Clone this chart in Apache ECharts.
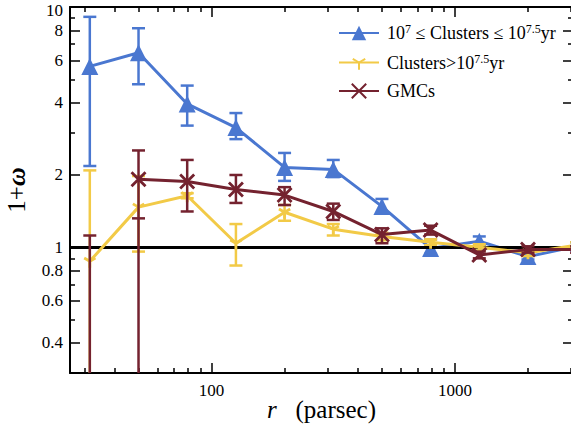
<!DOCTYPE html>
<html><head><meta charset="utf-8">
<script src="https://cdn.jsdelivr.net/npm/echarts@6/dist/echarts.min.js"></script>
<style>html,body{margin:0;padding:0;background:#fff}#c{width:571px;height:436px}</style>
</head><body><div id="c"></div>
<script>
// ---- data ----
const radii = [31.6, 50.1, 79.4, 125.9, 199.5, 316.2, 501.2, 794.3, 1258.9, 1995.3, 3162.3];

const youngVal  = [5.66, 6.45, 3.95, 3.15, 2.15, 2.11, 1.48, 0.99, 1.06, 0.915, 1.01];
const youngHigh = [9.1, 8.16, 4.71, 3.62, 2.47, 2.31, 1.59, 1.08, 1.11, 0.95, 1.05];
const youngLow  = [2.18, 4.77, 3.21, 2.82, 1.89, 1.96, 1.39, 0.94, 1.01, 0.89, 0.97];

const oldVal  = [0.875, 1.47, 1.64, 1.04, 1.40, 1.19, 1.11, 1.05, 1.0, 0.95, 1.02];
const oldHigh = [2.09, 1.98, 1.68, 1.25, 1.50, 1.25, 1.15, 1.08, 1.03, 0.98, 1.05];
const oldLow  = [0.1, 0.96, 1.60, 0.84, 1.29, 1.12, 1.07, 1.02, 0.97, 0.92, 0.99];

const gmcVal  = [null, 1.92, 1.88, 1.74, 1.65, 1.41, 1.13, 1.18, 0.93, 0.98, 0.98];
const gmcHigh = [1.12, 2.53, 2.31, 2.0, 1.78, 1.52, 1.20, 1.23, 0.96, 1.01, 1.01];
const gmcLow  = [0.01, 1.32, 1.41, 1.53, 1.50, 1.30, 1.04, 1.13, 0.90, 0.95, 0.95];
const gmcBarFloor = [null, 0.01, null, null, null, null, null, null, null, null, null];

const xMajorTicks = [100, 1000];
const xMinorTicks = [30, 40, 50, 60, 70, 80, 90, 200, 300, 400, 500, 600, 700, 800, 900, 2000, 3000];
const yMajorTicks = [0.4, 0.6, 0.8, 1, 2, 4, 6, 8, 10];
const yMinorTicks = [0.3, 0.5, 0.7, 0.9, 3, 5, 7, 9];

const seriesNames = ['young', 'old', 'gmc'];
// ---- styles ----
const C_BLUE = '#4a77d0', C_YEL = '#f2ca47', C_RED = '#74222f';
const FONT = "'Liberation Serif', 'Times New Roman', serif";

const chart = echarts.init(document.getElementById('c'), null, {renderer: 'svg'});

function errSeries(color, lows, highs, floors, z) {
  return {
    type: 'custom', xAxisIndex: 0, yAxisIndex: 0, clip: true, silent: true, z: z,
    data: radii.map((r, i) => [r, lows[i], highs[i], floors ? floors[i] : null]),
    encode: {x: 0, y: [1, 2]},
    renderItem(params, api) {
      const x = api.value(0), lo = api.value(1), hi = api.value(2), fl = api.value(3);
      const pHi = api.coord([x, hi]);
      const pLo = api.coord([x, lo]);
      const pB = (fl != null && !isNaN(fl) && fl > 0) ? api.coord([x, fl]) : pLo;
      const cap = 6.5;
      const style = {stroke: color, lineWidth: 2.5, fill: null};
      return {type: 'group', children: [
        {type: 'line', shape: {x1: pHi[0], y1: pHi[1], x2: pB[0], y2: pB[1]}, style},
        {type: 'line', shape: {x1: pHi[0] - cap, y1: pHi[1], x2: pHi[0] + cap, y2: pHi[1]}, style},
        {type: 'line', shape: {x1: pLo[0] - cap, y1: pLo[1], x2: pLo[0] + cap, y2: pLo[1]}, style}
      ]};
    }
  };
}

function lineSeries(name, color, vals, symbol, size, z, stroke) {
  return {
    type: 'line', name: name, xAxisIndex: 0, yAxisIndex: 0, z: z,
    data: radii.map((r, i) => [r, vals[i]]),
    symbol: symbol, symbolSize: size, showSymbol: true, clip: true,
    lineStyle: {color: color, width: 3},
    itemStyle: stroke ? {color: color, borderColor: color, borderWidth: 2.8} : {color: color},
    emphasis: {disabled: true}
  };
}

const TRI_DOWN = 'path://M0,0L0,1M0,0L-0.866,-0.5M0,0L0.866,-0.5M-1,-1L-1,-1M1,1L1,1';
const XMARK = 'path://M-1,-1L1,1M-1,1L1,-1';

const xBase = {type: 'log', logBase: 10, min: 26.2, max: 3055, gridIndex: 0,
  splitLine: {show: false}, axisLine: {show: false}, axisLabel: {show: false}, axisTick: {show: false}};
const yBase = {type: 'log', logBase: 10, min: 0.3, max: 10, gridIndex: 0,
  splitLine: {show: false}, axisLine: {show: false}, axisLabel: {show: false}, axisTick: {show: false}};
const spine = {show: true, onZero: false, lineStyle: {color: '#000', width: 2}};
const tick = (vals, len) => ({show: true, inside: true, length: len, customValues: vals, lineStyle: {color: '#000', width: 1.5}});
const tickRich = {
  a: {fontFamily: FONT, fontSize: 17, color: '#000', lineHeight: 14},
  b: {fontFamily: FONT, fontSize: 17, color: '#000', lineHeight: 14, padding: [6, 0, 0, 0]}
};

const option = {
  animation: false,
  backgroundColor: '#fff',
  textStyle: {fontFamily: FONT},
  grid: {left: 70, top: 7, width: 503, height: 366, containLabel: false, outerBoundsMode: 'none'},
  xAxis: [
    Object.assign({}, xBase, {position: 'bottom', axisLine: spine, axisTick: tick(xMajorTicks, 10),
      axisLabel: {show: true, customValues: xMajorTicks, margin: 10, fontFamily: FONT, fontSize: 17, color: '#000',
        formatter: v => '{a|' + String(Math.round(v)) + '}', rich: tickRich},
      name: '{i|r}{n|   (parsec)}', nameLocation: 'middle', nameGap: 24, nameMoveOverlap: false,
      nameTextStyle: {fontFamily: FONT, fontSize: 25, color: '#000',
        rich: {i: {fontFamily: FONT, fontSize: 25, fontStyle: 'italic', color: '#000'},
               n: {fontFamily: FONT, fontSize: 25, color: '#000'}}}}),
    Object.assign({}, xBase, {position: 'bottom', axisTick: tick(xMinorTicks, 5)}),
    Object.assign({}, xBase, {position: 'top', axisLine: spine, axisTick: tick(xMajorTicks, 10)}),
    Object.assign({}, xBase, {position: 'top', axisTick: tick(xMinorTicks, 5)})
  ],
  yAxis: [
    Object.assign({}, yBase, {position: 'left', axisLine: spine, axisTick: tick(yMajorTicks, 10),
      axisLabel: {show: true, customValues: yMajorTicks, margin: 7, fontFamily: FONT, fontSize: 17, color: '#000',
        formatter: v => (v > 9.5 ? '{b|' : '{a|') + (v >= 1 ? String(Math.round(v)) : String(Math.round(v * 10) / 10)) + '}',
        rich: tickRich},
      name: '{n|1+}{i|ω}', nameLocation: 'middle', nameGap: 41, nameMoveOverlap: false,
      nameTextStyle: {fontFamily: FONT, fontSize: 25, color: '#000',
        rich: {n: {fontFamily: FONT, fontSize: 25, color: '#000'},
               i: {fontFamily: FONT, fontSize: 26, fontStyle: 'italic', fontWeight: 'bold', color: '#000'}}}}),
    Object.assign({}, yBase, {position: 'left', axisTick: tick(yMinorTicks, 5)}),
    Object.assign({}, yBase, {position: 'right', axisLine: spine, axisTick: tick(yMajorTicks, 10)}),
    Object.assign({}, yBase, {position: 'right', axisTick: tick(yMinorTicks, 5)})
  ],
  legend: {
    show: true, orient: 'vertical', left: 333, top: 18,
    itemWidth: 40, itemHeight: 18, itemGap: 10.5,
    data: seriesNames,
    formatter: function (n) {
      if (n === 'young') return '{t|10}{s|7}{t| ≤ Clusters ≤ 10}{s|7.5}{t|yr}';
      if (n === 'old') return '{t|Clusters>10}{s|7.5}{t|yr}';
      return '{t|GMCs}';
    },
    textStyle: {fontFamily: FONT, fontSize: 18, color: '#000', padding: [0, 0, 0, 3],
      rich: {t: {fontFamily: FONT, fontSize: 18, color: '#000', lineHeight: 20},
             s: {fontFamily: FONT, fontSize: 12, color: '#000', verticalAlign: 'top', lineHeight: 12}}}
  },
  series: [
    {type: 'line', data: [], markLine: {silent: true, symbol: 'none', label: {show: false},
      lineStyle: {color: '#000', width: 3, type: 'solid'}, data: [{yAxis: 1}]}, z: 1},
    errSeries(C_BLUE, youngLow, youngHigh, null, 2),
    lineSeries('young', C_BLUE, youngVal, 'triangle', 17, 3, false),
    errSeries(C_YEL, oldLow, oldHigh, null, 4),
    lineSeries('old', C_YEL, oldVal, TRI_DOWN, 13, 5, true),
    errSeries(C_RED, gmcLow, gmcHigh, gmcBarFloor, 6),
    lineSeries('gmc', C_RED, gmcVal, XMARK, 14, 7, true)
  ]
};
chart.setOption(option);
</script></body></html>
